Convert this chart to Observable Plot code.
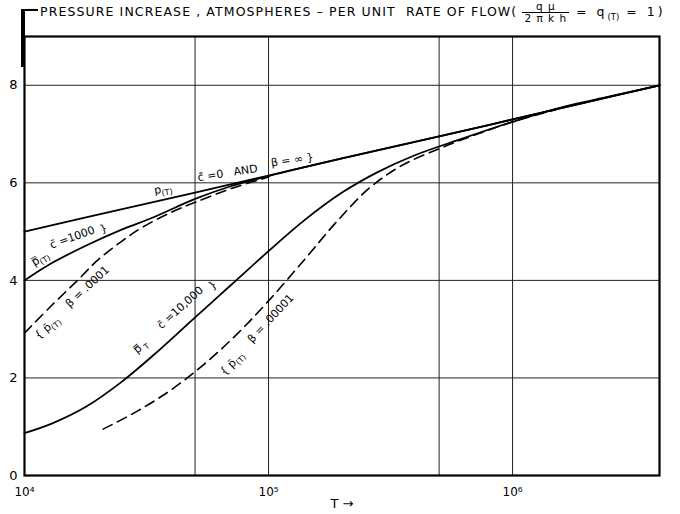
<!DOCTYPE html>
<html><head><meta charset="utf-8">
<script src="https://cdn.jsdelivr.net/npm/d3@7"></script>
<script src="https://cdn.jsdelivr.net/npm/@observablehq/plot@0.6"></script>
<style>
body{margin:0;background:#fff;}
#wrap{position:relative;width:680px;height:514px;font-family:"DejaVu Sans",sans-serif;color:#000;}
#title{position:absolute;left:40px;top:1px;font-size:12.5px;letter-spacing:1.1px;white-space:nowrap;}
#title sub{font-size:8.5px;letter-spacing:0;}
#title .tail{letter-spacing:3px;}
.frac{display:inline-block;vertical-align:middle;text-align:center;font-size:10.5px;line-height:11px;letter-spacing:1px;}
.frac span{display:block;padding:0 2px;}
.frac .num{border-bottom:1px solid #000;}
#bar{position:absolute;left:21px;top:9px;width:4px;height:58px;background:#000;}
#bar2{position:absolute;left:21px;top:9px;width:17px;height:2px;background:#000;}
</style></head><body>
<div id="wrap"><div id="chart"></div><div id="bar"></div><div id="bar2"></div>
<div id="title">PRESSURE INCREASE , ATMOSPHERES – PER UNIT&nbsp; RATE OF FLOW( <span class="frac"><span class="num">q μ</span><span>2 π k h</span></span><span class="tail"> = q<sub>(T)</sub> = 1)</span></div>
</div>
<script>
// ---- data ----
// p(T): c̄ = 0 and β = ∞
const tP = [1e4, 2e4, 5e4, 1e5, 2e5, 5e5, 1e6, 2e6, 4e6];
const pP = [5.0, 5.35, 5.8, 6.15, 6.5, 6.95, 7.3, 7.65, 8.0];
// p̿(T), c̄ = 1000 (solid)
const tC1 = [1e4, 1.3e4, 1.8e4, 2.5e4, 3.4e4, 5e4, 7e4, 1e5, 2e5, 5e5, 1e6, 2e6, 4e6];
const pC1 = [4.0, 4.36, 4.72, 5.04, 5.3, 5.67, 5.93, 6.14, 6.5, 6.95, 7.3, 7.65, 8.0];
// p̄(T), β = .0001 (dashed)
const tB1 = [1e4, 1.3e4, 1.65e4, 2e4, 2.5e4, 3e4, 4e4, 5e4, 7e4, 1e5];
const pB1 = [2.92, 3.5, 4.0, 4.42, 4.8, 5.07, 5.4, 5.6, 5.88, 6.12];
// p̿T, c̄ = 10,000 (solid)
const tC2 = [1e4, 1.3e4, 1.8e4, 2.5e4, 3.4e4, 4.9e4, 7e4, 1e5, 1.4e5, 2e5, 2.8e5, 4e5, 6e5, 1e6, 1.6e6, 2.5e6, 4e6];
const pC2 = [0.87, 1.07, 1.42, 1.92, 2.48, 3.2, 3.9, 4.6, 5.23, 5.8, 6.22, 6.57, 6.88, 7.25, 7.55, 7.77, 8.0];
// p̄(T), β = .00001 (dashed)
const tB2 = [2.1e4, 2.9e4, 4e4, 5.5e4, 7.5e4, 1e5, 1.4e5, 1.9e5, 2.6e5, 3.5e5, 5e5, 7e5, 1e6, 1.5e6];
const pB2 = [0.95, 1.32, 1.76, 2.3, 2.92, 3.58, 4.42, 5.2, 5.9, 6.35, 6.7, 6.98, 7.25, 7.5];

const xTicks = [1e4, 1e5, 1e6];
const yTicks = [0, 2, 4, 6, 8];
const xGrid = [5e4, 1e5, 5e5, 1e6];
const yGrid = [2, 4, 6, 8];

// curve annotations: T, p, text, angle
const annT = [3.7e4, 6.8e4, 1.25e5, 1.16e4, 1.57e4, 2.11e4, 1.81e4, 1.24e4, 2.99e4, 4.35e4, 5.9e4, 7.1e4, 1.02e5];
const annP = [5.87, 6.2, 6.47, 4.45, 4.88, 5.06, 3.87, 3.03, 2.64, 3.44, 3.9, 2.30, 3.22];
const annText = ["p_{(T)}", "c\u0304 =0   AND", "β = ∞ }", "p\u033F_{(T)}", "c\u0304 =1000", "}", "β = .0001", "{ p\u0304_{(T)}", "p\u033F_{ T}", "c\u0304 =10,000", "}", "{ p\u0304_{(T)}", "β = .00001"];
const annRot = [-8, -9, -8, -32, -20, -20, -43, -40, -40, -42, -40, -45, -47];

const mk = (ts, ps, s) => ts.map((t, i) => ({T: t, p: ps[i], s}));
const solid = [...mk(tP, pP, "p"), ...mk(tC1, pC1, "c1000"), ...mk(tC2, pC2, "c10000")];
const dashed = [...mk(tB1, pB1, "b1"), ...mk(tB2, pB2, "b2")];
const ann = annT.map((t, i) => ({T: t, p: annP[i], text: annText[i], r: annRot[i]}));
const sup = {4: "⁴", 5: "⁵", 6: "⁶"};

const chart = Plot.plot({
  width: 680, height: 514,
  marginLeft: 24, marginRight: 21, marginTop: 36, marginBottom: 39,
  style: {fontFamily: "DejaVu Sans, sans-serif", background: "#fff", color: "#000"},
  x: {type: "log", domain: [1e4, 4e6]},
  y: {domain: [0, 9]},
  marks: [
    Plot.ruleY(yGrid, {stroke: "#222", strokeWidth: 1}),
    Plot.ruleX(xGrid, {stroke: "#222", strokeWidth: 1}),
    Plot.line(solid, {x: "T", y: "p", z: "s", stroke: "#000", strokeWidth: 1.8, curve: "catmull-rom"}),
    Plot.line(dashed, {x: "T", y: "p", z: "s", stroke: "#000", strokeWidth: 1.6, strokeDasharray: "10,6", curve: "catmull-rom"}),
    Plot.frame({stroke: "#000", strokeWidth: 2.2}),
    Plot.text(ann, {x: "T", y: "p", text: "text", rotate: "r", fontSize: 11, fill: "#000", className: "ann"}),
    Plot.axisX({ticks: xTicks, tickFormat: d => "10" + sup[Math.round(Math.log10(d))], tickSize: 0, tickPadding: 12, fontSize: 12, label: null}),
    Plot.axisY({ticks: yTicks, tickSize: 0, tickPadding: 7, fontSize: 13, label: null}),
    Plot.text(["T →"], {frameAnchor: "bottom", dy: 32, fontSize: 13, fill: "#000"})
  ]
});
document.getElementById("chart").appendChild(chart);

// turn _{...} into subscript tspans
d3.select(chart).selectAll(".ann text").each(function() {
  const s = this.textContent;
  if (!s.includes("_{")) return;
  const sel = d3.select(this);
  sel.text(null);
  const re = /_\{([^}]*)\}/g;
  let last = 0, m;
  while ((m = re.exec(s))) {
    if (m.index > last) sel.append("tspan").text(s.slice(last, m.index));
    sel.append("tspan").attr("dy", "0.35em").attr("font-size", "8px").text(m[1]);
    last = re.lastIndex;
  }
  if (last < s.length) sel.append("tspan").attr("dy", "-0.35em").text(s.slice(last));
});
</script>
</body></html>
